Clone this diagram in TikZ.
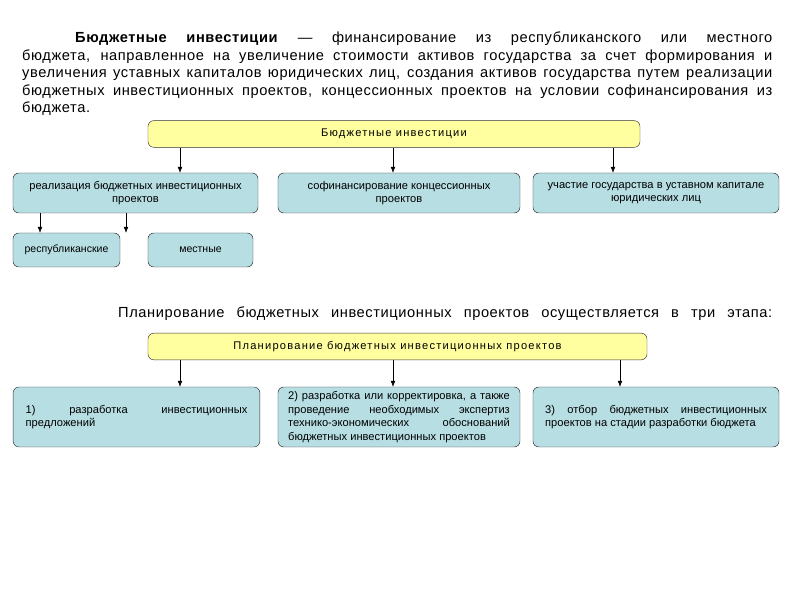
\documentclass[tikz,border=0pt]{standalone}
\usepackage{fontspec}
\setmainfont{Liberation Sans}
\newfontfamily\bodyfont[LetterSpace=4]{Liberation Sans}
\newfontfamily\headfont[LetterSpace=11]{Liberation Sans}
\usepackage{tikz}
\usetikzlibrary{arrows,arrows.meta,shapes,positioning}
\definecolor{headfill}{HTML}{FFFFA0}
\definecolor{boxfill}{HTML}{B7DEE3}
\tikzset{
  basic/.style  = {draw=black!80, thin, rectangle, rounded corners=5pt,
                   inner sep=2pt, font=\fontsize{9.5}{11.5}\selectfont},
  header/.style = {basic, fill=headfill, minimum height=0.8cm, align=center,
                   font=\headfont\fontsize{9.5}{11.5}\selectfont},
  branch/.style = {basic, fill=boxfill, minimum height=1.2cm, align=center},
  leaf/.style   = {basic, fill=boxfill, minimum height=1.02cm, align=center,
                   font=\fontsize{9}{11}\selectfont},
  stage/.style  = {basic, fill=boxfill, minimum height=1.8cm, minimum width=7.4cm,
                   text width=6.65cm, align=justify},
  para/.style   = {inner sep=0pt, font=\bodyfont\fontsize{12.5}{14.9}\selectfont}
}

\begin{document}
\begin{tikzpicture}[x=0.03cm, y=-0.03cm, >={Latex[length=5pt,width=4pt]}]
\useasboundingbox (0,0) rectangle (800,600);

% text above the first tree
\node[para, anchor=north west, text width=22.5cm, align=justify] (t1) at (22,32)
  {\hspace*{1.59cm}\textbf{Бюджетные инвестиции} — финансирование из республиканского или местного\linebreak
   бюджета, направленное на увеличение стоимости активов государства за счет формирования и\linebreak
   увеличения уставных капиталов юридических лиц, создания активов государства путем реализации\linebreak
   бюджетных инвестиционных проектов, концессионных проектов на условии софинансирования из\linebreak
   бюджета.};

% first tree
\node[header, minimum width=14.76cm] (c0) at (394,134) {Бюджетные инвестиции};

\begin{scope}[every node/.style={branch}]
\node[minimum width=7.35cm] (c1) at (135.5,193) {реализация бюджетных инвестиционных\\ проектов};
\node[minimum width=7.26cm] (c2) at (399,193) {софинансирование концессионных\\ проектов};
\node[minimum width=7.38cm] (c3) at (656,193) {участие государства в уставном капитале\\ юридических лиц};
\end{scope}

\begin{scope}[every node/.style={leaf}]
\node[minimum width=3.21cm] (c11) at (66.5,250) {республиканские};
\node[minimum width=3.15cm] (c12) at (200.5,250) {местные};
\end{scope}

\foreach \value/\xx in {1/180,2/393,3/613}
  \draw[->] (c0.south -| \xx,0) -- (c\value.north -| \xx,0);

\foreach \value/\xx in {1/40,2/126}
  \draw[->] (c1.south -| \xx,0) -- (c1\value.north -| \xx,0);

% text above the second tree
\node[para, anchor=west] (t2) at (118,314)
  {\makebox[19.62cm][s]{Планирование бюджетных инвестиционных проектов осуществляется в три этапа:}};

% second tree
\node[header, minimum width=14.97cm] (p0) at (397.5,346.5) {Планирование бюджетных инвестиционных проектов};

\begin{scope}[every node/.style={stage}]
\node (p1) at (136.5,417) {1) разработка инвестиционных\linebreak предложений};
\node[minimum width=7.26cm] (p2) at (399,417) {2) разработка или корректировка, а также\linebreak
  проведение необходимых экспертиз\linebreak технико-экономических обоснований\linebreak
  бюджетных инвестиционных проектов};
\node[minimum width=7.38cm] (p3) at (656,417) {3) отбор бюджетных инвестиционных\linebreak
  проектов на стадии разработки бюджета};
\end{scope}

\foreach \value/\xx in {1/180,2/393,3/620}
  \draw[->] (p0.south -| \xx,0) -- (p\value.north -| \xx,0);

\end{tikzpicture}
\end{document}
